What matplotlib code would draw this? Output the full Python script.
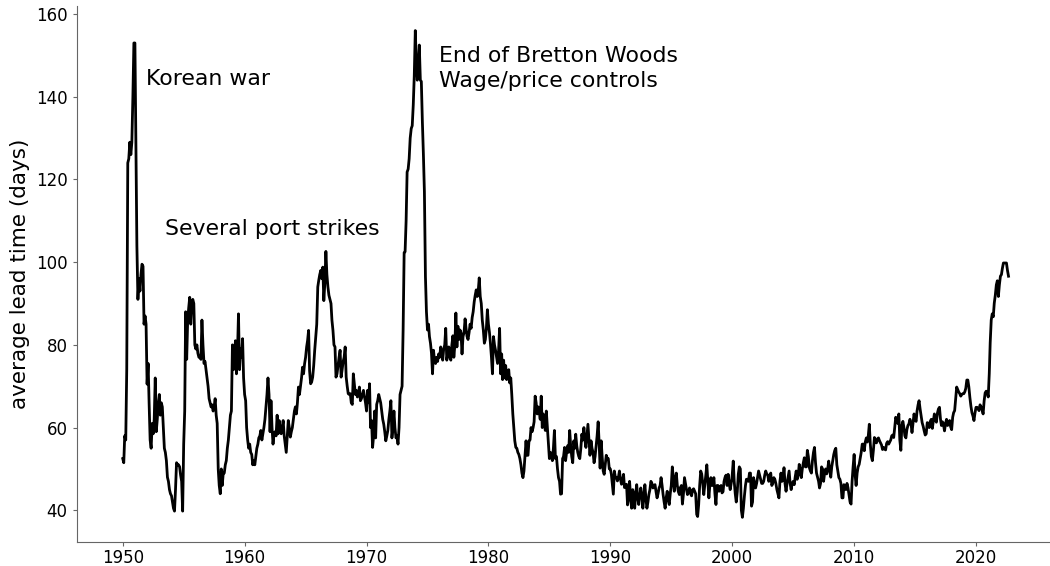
import numpy as np
import pandas as pd
import matplotlib
matplotlib.use("Agg")
import matplotlib.pyplot as plt
import matplotlib.dates as mdates


# monthly average lead time (days), Jan 1950 onward
lead_1950s = [
    52.5, 51.5, 58, 57, 74, 124, 125, 129, 126, 129, 140, 153,
    153, 128, 104, 91, 96, 93, 97, 99.5, 99, 85, 87, 85,
    70.5, 75.5, 66, 57, 55, 61, 58.5, 62, 72, 59, 62, 66,
    68, 63, 66, 65, 60, 55, 54, 52, 48, 47, 45, 44,
    43.5, 42, 40.5, 39.8, 45, 51.5, 51, 51, 50.5, 48.5, 47, 39.8,
    56, 64, 88, 76.5, 86, 89, 91.5, 85, 90, 91, 90, 80,
    79, 80, 78, 77, 77, 76.5, 86, 80, 75.5, 76, 74, 72,
    70, 67, 66, 65, 65.5, 64, 65, 67, 63, 61, 50, 46,
    44, 50, 46, 49, 49, 51, 52, 55, 57, 60, 63, 64,
    80, 74, 77, 81, 73, 78, 87.5, 74, 79, 77, 81.5, 72,
]
lead_1960s = [
    68, 66.5, 60, 57, 55, 56, 54, 53.5, 51, 52, 51, 53,
    55, 56, 57.5, 58, 59.3, 57, 58.5, 60, 62, 65, 68, 72,
    68, 59, 66.5, 60, 56, 58.5, 59, 58, 63, 58.5, 61.7, 60,
    58.5, 60, 61.7, 58, 56, 54, 58, 61.7, 60, 57.7, 59, 60,
    62, 64, 65, 63.3, 66, 69.8, 68, 70, 72, 74.6, 73, 75.4,
    77, 79.5, 81, 83.5, 73.7, 70.6, 71, 72.2, 75, 78.7, 82, 85,
    94, 95.7, 97, 98, 96, 98.8, 90.7, 95, 102.6, 97, 94, 92,
    91, 90, 86, 83.5, 80, 79.5, 72.2, 73, 75, 77, 78.7, 72.2,
    74, 76, 77, 79.5, 72.2, 70, 68.2, 68, 68.2, 66, 65.6, 73,
    70.6, 68, 69, 67.4, 68, 69.8, 66.5, 67, 68, 69, 67.4, 66,
]
lead_1970s = [
    64, 69, 66, 70.6, 60, 61.7, 55.2, 58, 64, 57.5, 65.6, 66.5,
    68, 67, 66, 64, 62, 60.8, 59, 56.8, 58, 59.3, 62, 64,
    66.5, 57.5, 60, 64, 60, 57.5, 58, 56, 60, 68, 69, 70,
    83.6, 102.3, 102.5, 110, 121.8, 122.5, 125, 130, 132.3, 133, 138, 145,
    156, 148, 144, 148, 152.5, 144, 143.7, 134, 126, 117, 96.5, 88,
    83.6, 85, 82, 80.4, 78, 73, 78.7, 76, 75.5, 77, 76, 77.8,
    77, 79.5, 78, 76.3, 79, 80, 84, 76.3, 78, 79.5, 77, 76.3,
    80, 82.2, 77, 80, 87.7, 79.5, 84.5, 81.3, 83.6, 83, 77.8, 82,
    83, 86.3, 84, 82, 81.3, 83, 85, 84, 86.6, 88, 90.4, 92,
    93.3, 91.7, 93, 96.2, 91.7, 90, 86, 83.6, 80.4, 81.3, 84, 88.5,
]
lead_1980s = [
    85, 83, 80.4, 77, 73, 82, 80, 78.7, 77, 75.5, 78.7, 84,
    73, 77.8, 71.6, 76.3, 72, 75, 71.6, 73, 74, 70.8, 72, 68,
    63.3, 60, 56.8, 55.2, 55, 54, 53.5, 52.5, 51, 49, 47.9, 49.5,
    53, 56.8, 53.3, 53.3, 56.8, 57, 60, 59, 60, 61.4, 67.6, 66,
    63.3, 65, 64, 62, 67.6, 60, 63.3, 61, 59.3, 64, 60, 56,
    52.5, 54, 53, 52, 55, 59.3, 52.5, 53, 50, 47.9, 47, 43.9,
    44, 52.5, 53, 55.2, 52, 54, 55.6, 54, 59.3, 55.6, 53, 51.5,
    56.8, 55, 58.4, 55.6, 54, 53, 52.5, 55, 58.4, 57, 60, 57,
    55.2, 58, 60.8, 57, 53.3, 56.8, 55, 54, 51.5, 53, 55.6, 58,
    61.4, 56, 50.2, 56.8, 53, 49.5, 48.7, 51, 53.3, 52.5, 52.5, 50,
]
lead_1990s = [
    50, 48.7, 46.5, 43.9, 49.5, 48, 47.9, 47.1, 48, 49.5, 47.5, 46.3,
    47, 48.7, 45.5, 46, 46.3, 41.3, 43, 47, 43, 40.5, 45, 44,
    40.5, 44, 46.2, 43, 41.4, 43.5, 45.4, 44, 40.5, 43, 46.2, 43,
    40.5, 42, 43.8, 45, 47, 46.5, 45.4, 46, 46.2, 44.5, 43, 44,
    45.4, 46, 47.9, 46, 43.8, 42, 40.5, 43, 44.6, 42.5, 41.4, 44,
    46, 50.5, 48, 44.6, 47.5, 49, 46, 44.5, 43.8, 45.5, 46, 41.5,
    44, 47.9, 46.5, 45, 43.8, 44.5, 45.4, 44, 43.5, 45, 45.2, 44.6,
    44, 39, 38.5, 41.4, 46, 49.5, 48.8, 46.5, 43.8, 46, 48.5, 51,
    47, 43, 46, 47.9, 46, 46, 47.9, 44, 41.4, 46, 46, 44.6,
    45.5, 46, 44.2, 44.5, 47, 48, 48.5, 46, 48.7, 46.5, 45, 46.5,
]
lead_2000s = [
    48.5, 51.9, 47, 44, 42, 44.5, 48.7, 50.5, 50, 40, 38.3, 40.5,
    43.5, 46, 47.5, 47.5, 47, 49, 49, 41, 42, 47.9, 46.5, 45.4,
    46.5, 48, 49.5, 48.5, 47.5, 46.5, 46.5, 47, 48.5, 49.5, 48.8, 48.5,
    47, 48.5, 49, 46, 46.5, 47.9, 47.5, 46.5, 45, 44, 43, 47,
    49, 47, 47.5, 50.3, 46.5, 44.6, 46.5, 48, 49.5, 46.5, 45, 46.5,
    47, 46.2, 48, 49.5, 47.5, 48.5, 51.1, 49.5, 47.9, 50, 51.5, 52.7,
    50.5, 50.5, 54.5, 53, 50.3, 49.5, 49, 52, 54, 55.2, 51.5, 49,
    48, 47, 45.4, 46.5, 50.5, 50, 47, 49, 50, 48.8, 50, 51.9,
    49.5, 48, 50.5, 52, 53.5, 54.5, 55, 51, 49.5, 47.9, 47.5, 46.5,
    43, 43, 46.2, 45.2, 45, 46.5, 45.5, 43.8, 42, 41.5, 47, 50.5,
]
lead_2010s = [
    53.5, 48.5, 46, 49, 50.5, 51.1, 52.5, 54, 56, 56, 54.4, 56.5,
    57.5, 56.5, 58, 60.8, 56, 53, 52, 54.5, 57.6, 56.5, 56.3, 57.3,
    57.5, 56.8, 56.3, 55.8, 54.7, 55.2, 54.8, 54.6, 56.2, 56.6, 56, 56.5,
    57, 58, 58.2, 57.6, 60, 62.5, 61.8, 61, 63.3, 57, 54.5, 60.5,
    61.5, 60, 58, 57.5, 59.5, 60.5, 60.9, 62, 61, 58.8, 61, 63.3,
    62, 61.5, 64, 65.5, 66.5, 64.5, 62.8, 61.2, 60.3, 59.2, 58.2, 58.5,
    61.2, 61, 60, 61.5, 62, 59.8, 61.5, 63.3, 62, 61.3, 63.5, 64.5,
    64.9, 62, 60.5, 61.4, 60.8, 59.2, 61, 62, 60.5, 60.8, 61.7, 60.2,
    59.5, 62.5, 63.6, 64.1, 67, 69.8, 69.2, 68.6, 68.2, 67.6, 68, 68.2,
    68.2, 68.7, 69.5, 71.5, 71.5, 69.8, 67.3, 65.2, 63.6, 62.8, 61.7, 63.5,
]
lead_2020s = [
    64.9, 64.9, 64.6, 64.1, 65.5, 65, 64.3, 63.3, 66.5, 68.4, 68.8, 68.5,
    67.4, 73, 80.5, 86, 87.5, 86.8, 90.1, 92, 94.5, 95.5, 91.7, 94.5,
    96.6, 97, 98.5, 99.8, 99.8, 99.8, 99.8, 98, 96.6,
]

notes = ["Korean war", "Several port strikes",
         "End of Bretton Woods\nWage/price controls"]
note_dates = ["1951-12-01", "1953-07-01", "1975-12-10"]
note_vals = [144.2, 108.1, 146.8]


lead = (lead_1950s + lead_1960s + lead_1970s + lead_1980s
        + lead_1990s + lead_2000s + lead_2010s + lead_2020s)
dates = pd.date_range("1950-01-01", periods=len(lead), freq="MS")

fig = plt.figure(figsize=(10.5, 5.66), dpi=100)
ax = fig.add_axes([0.073, 0.043, 0.927, 0.946])

ax.plot(dates, lead, color="black", linewidth=2.0)

for txt, d, v in zip(notes, note_dates, note_vals):
    ax.text(pd.Timestamp(d), v, txt, fontsize=15.8, ha="left", va="center",
            linespacing=1.3)

ax.set_ylabel("average lead time (days)", fontsize=15.5)
ax.set_yticks([40, 60, 80, 100, 120, 140, 160])
ax.set_xlim(pd.Timestamp("1946-03-22"), pd.Timestamp("2026-01-26"))
ax.xaxis.set_major_locator(mdates.YearLocator(10))
ax.xaxis.set_major_formatter(mdates.DateFormatter("%Y"))
ax.tick_params(labelsize=12, length=3, color="#666666")
ax.tick_params(axis="x", pad=2.2)

ax.spines["top"].set_visible(False)
ax.spines["right"].set_visible(False)
ax.spines["left"].set_color("#666666")
ax.spines["bottom"].set_color("#666666")

plt.savefig("out.png", dpi=100)
